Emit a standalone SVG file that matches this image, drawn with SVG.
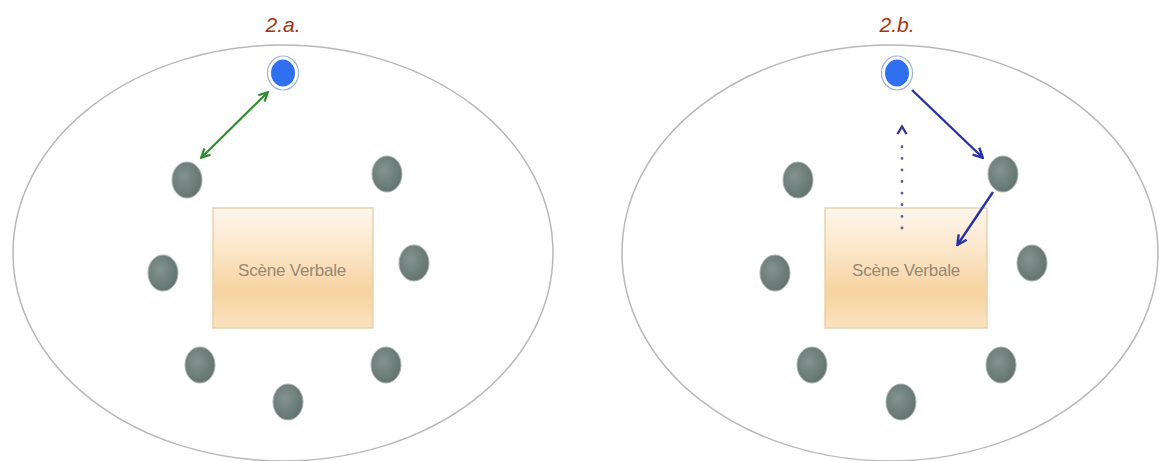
<svg xmlns="http://www.w3.org/2000/svg" width="1162" height="461" viewBox="0 0 1162 461">
<style>
.title{font-family:"Liberation Sans",Arial,sans-serif;font-size:21px;font-style:italic;fill:#A5360C;text-anchor:middle}
.room{fill:none;stroke:#b8b8b8;stroke-width:1.5}
.person{fill:url(#grayG);stroke:#a9b4b0;stroke-width:1}
.speaker{fill:#2f6ff0;stroke:#ffffff;stroke-width:3}
.ring{fill:none;stroke:#9fb3d8;stroke-width:1.2}
.scene{fill:url(#sceneG);stroke:#e6d2b0;stroke-width:1.5}
.label{font-family:"Liberation Sans",Arial,sans-serif;font-size:17px;fill:#958878;text-anchor:middle;letter-spacing:-0.2px}
.green{stroke:#2e8b2e;stroke-width:2.2;fill:none}
.blue{stroke:#2a31a8;stroke-width:2.4;fill:none}
.dots{stroke:#5e5d92;stroke-width:2.8;stroke-linecap:round;stroke-dasharray:0.1 11.5;fill:none}
.chev{stroke:#34348a;stroke-width:2.4;fill:none}
</style>
<defs>
<radialGradient id="grayG" cx="0.4" cy="0.4" r="0.7">
<stop offset="0" stop-color="#84938f"/>
<stop offset="1" stop-color="#5f6f6a"/>
</radialGradient>
<linearGradient id="sceneG" x1="0" y1="0" x2="0" y2="1">
<stop offset="0" stop-color="#fdf6ec"/>
<stop offset="0.35" stop-color="#fbe6c8"/>
<stop offset="0.7" stop-color="#f7d3a0"/>
<stop offset="1" stop-color="#fae2c0"/>
</linearGradient>
<marker id="ag" viewBox="0 0 10 10" refX="8" refY="5" markerWidth="5" markerHeight="5" orient="auto-start-reverse">
<path d="M1,1 L9,5 L1,9" fill="none" stroke="#2e8b2e" stroke-width="2"/>
</marker>
<marker id="ab" viewBox="0 0 10 10" refX="8" refY="5" markerWidth="5" markerHeight="5" orient="auto">
<path d="M1,1 L9,5 L1,9" fill="none" stroke="#2a31a8" stroke-width="2"/>
</marker>
</defs>
<rect width="1162" height="461" fill="#ffffff"/>

<g id="panel-a">
<text class="title" x="283" y="32">2.a.</text>
<ellipse id="room-a" class="room" cx="283" cy="253" rx="270" ry="208"/>
<g id="scene-a"><rect class="scene" x="213" y="208" width="160" height="120"/><text class="label" x="292" y="276">Scène Verbale</text></g>
<g id="speaker-a"><ellipse class="speaker" cx="283" cy="73" rx="13.5" ry="15"/><ellipse class="ring" cx="283" cy="73" rx="15.5" ry="17"/></g>
<g id="p-a1"><ellipse class="person" cx="187" cy="180" rx="15" ry="18"/></g>
<g id="p-a2"><ellipse class="person" cx="387" cy="174" rx="15" ry="18"/></g>
<g id="p-a3"><ellipse class="person" cx="163" cy="273" rx="15" ry="18"/></g>
<g id="p-a4"><ellipse class="person" cx="414" cy="263" rx="15" ry="18"/></g>
<g id="p-a5"><ellipse class="person" cx="200" cy="365" rx="15" ry="18"/></g>
<g id="p-a6"><ellipse class="person" cx="386" cy="365" rx="15" ry="18"/></g>
<g id="p-a7"><ellipse class="person" cx="288" cy="402" rx="15" ry="18"/></g>
</g>

<g id="panel-b">
<text class="title" x="897" y="32">2.b.</text>
<ellipse id="room-b" class="room" cx="890" cy="253" rx="268" ry="208"/>
<g id="scene-b"><rect class="scene" x="825" y="208" width="162" height="120"/><text class="label" x="906" y="276">Scène Verbale</text></g>
<g id="speaker-b"><ellipse class="speaker" cx="897" cy="73" rx="13.5" ry="15"/><ellipse class="ring" cx="897" cy="73" rx="15.5" ry="17"/></g>
<g id="p-b1"><ellipse class="person" cx="798" cy="180" rx="15" ry="18"/></g>
<g id="p-b2"><ellipse class="person" cx="1003" cy="174" rx="15" ry="18"/></g>
<g id="p-b3"><ellipse class="person" cx="775" cy="273" rx="15" ry="18"/></g>
<g id="p-b4"><ellipse class="person" cx="1032" cy="263" rx="15" ry="18"/></g>
<g id="p-b5"><ellipse class="person" cx="812" cy="365" rx="15" ry="18"/></g>
<g id="p-b6"><ellipse class="person" cx="1001" cy="365" rx="15" ry="18"/></g>
<g id="p-b7"><ellipse class="person" cx="901" cy="402" rx="15" ry="18"/></g>
</g>

<g id="connectors">
<line class="green" x1="267" y1="93" x2="202" y2="157" marker-start="url(#ag)" marker-end="url(#ag)"/>
<line class="blue" x1="912" y1="90" x2="982" y2="157" marker-end="url(#ab)"/>
<line class="blue" x1="993" y1="192" x2="958" y2="244" marker-end="url(#ab)"/>
<line class="dots" x1="902" y1="228" x2="902" y2="136"/>
<path class="chev" d="M897.5,134 L902,126.5 L906.5,134"/>
</g>
</svg>
